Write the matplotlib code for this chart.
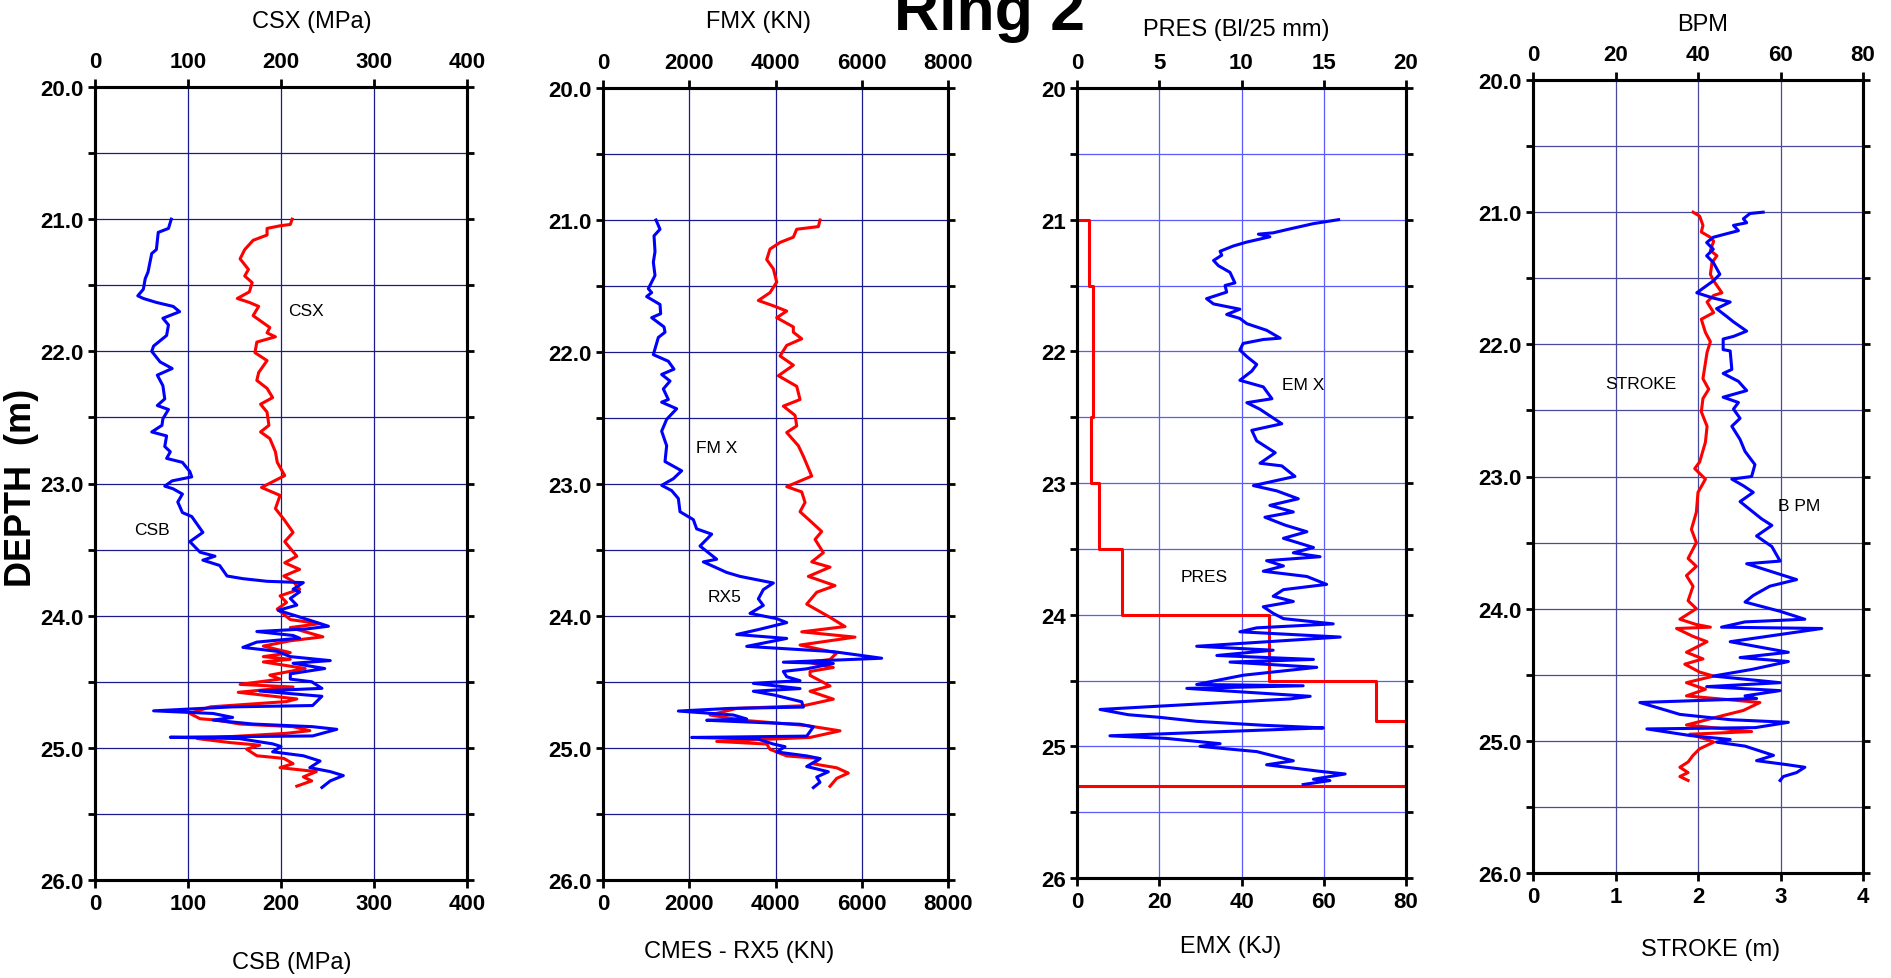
import matplotlib
matplotlib.use("Agg")
import matplotlib.pyplot as plt

W, H = 1891, 979

plt.rcParams['font.family'] = ['Liberation Sans', 'DejaVu Sans']

# ---------------- data ----------------
# panel 1 : CSX (top, red) / CSB (bottom, blue), MPa
csx_depth = [21.00, 21.04, 21.05, 21.07, 21.12, 21.16, 21.23, 21.30, 21.38, 21.43,
             21.48, 21.55, 21.60, 21.63, 21.66, 21.73, 21.77, 21.82, 21.86, 21.89,
             21.93, 22.01, 22.07, 22.16, 22.22, 22.28, 22.35, 22.40, 22.46, 22.56,
             22.61, 22.66, 22.76, 22.84, 22.94, 23.03, 23.09, 23.19, 23.27, 23.37,
             23.44, 23.55, 23.60, 23.65, 23.70, 23.74, 23.80, 23.85, 23.90, 23.95,
             24.03, 24.06, 24.09, 24.16, 24.19, 24.23, 24.28, 24.31, 24.33, 24.35,
             24.40, 24.45, 24.48, 24.52, 24.54, 24.58, 24.63, 24.65, 24.69, 24.74,
             24.78, 24.79, 24.82, 24.84, 24.87, 24.89, 24.93, 24.96, 24.98, 25.01,
             25.06, 25.08, 25.12, 25.15, 25.18, 25.22, 25.25, 25.29]
csx = [212, 210, 199, 185, 185, 170, 161, 156, 165, 161,
       169, 166, 153, 166, 176, 170, 178, 188, 185, 194,
       174, 172, 185, 176, 174, 185, 191, 178, 185, 187,
       178, 188, 194, 196, 204, 179, 199, 194, 203, 213,
       204, 217, 204, 220, 203, 213, 220, 199, 206, 196,
       210, 242, 210, 245, 210, 181, 210, 181, 210, 181,
       226, 188, 199, 156, 213, 154, 217, 206, 124, 102,
       113, 131, 156, 213, 231, 206, 110, 145, 177, 163,
       174, 203, 213, 199, 238, 224, 233, 217]

csb_depth = [21.00, 21.07, 21.10, 21.23, 21.26, 21.40, 21.45, 21.53, 21.58, 21.60,
             21.63, 21.66, 21.70, 21.75, 21.80, 21.88, 21.96, 22.00, 22.08, 22.13,
             22.18, 22.26, 22.36, 22.41, 22.44, 22.51, 22.56, 22.61, 22.64, 22.72,
             22.76, 22.81, 22.84, 22.91, 22.95, 22.98, 23.02, 23.04, 23.08, 23.14,
             23.22, 23.25, 23.29, 23.37, 23.44, 23.52, 23.55, 23.58, 23.62, 23.70,
             23.72, 23.74, 23.75, 23.80, 23.82, 23.87, 23.92, 23.96, 24.01, 24.08,
             24.10, 24.12, 24.15, 24.17, 24.20, 24.24, 24.27, 24.31, 24.34, 24.36,
             24.40, 24.44, 24.48, 24.50, 24.55, 24.57, 24.61, 24.68, 24.69, 24.72,
             24.74, 24.77, 24.79, 24.82, 24.84, 24.86, 24.91, 24.92, 24.93, 24.97,
             24.99, 25.03, 25.06, 25.10, 25.15, 25.18, 25.21, 25.25, 25.30]
csb = [82, 79, 68, 66, 61, 57, 54, 52, 46, 52,
       66, 84, 91, 73, 79, 77, 63, 61, 70, 83,
       67, 73, 75, 67, 79, 73, 72, 61, 77, 75,
       81, 77, 94, 102, 104, 83, 75, 84, 94, 89,
       94, 104, 108, 116, 102, 113, 129, 116, 134, 142,
       159, 185, 224, 213, 220, 210, 217, 197, 220, 251,
       228, 174, 213, 220, 174, 159, 196, 210, 253, 213,
       247, 210, 210, 233, 244, 177, 244, 234, 148, 63,
       127, 148, 127, 170, 234, 260, 234, 81, 155, 191,
       200, 191, 224, 242, 231, 253, 267, 253, 244]

# panel 2 : FMX (red) / RX5 (blue), KN
fmx_depth = [21.00, 21.05, 21.07, 21.13, 21.17, 21.22, 21.30, 21.37, 21.47, 21.55,
             21.61, 21.65, 21.69, 21.74, 21.81, 21.85, 21.90, 21.95, 22.03, 22.10,
             22.18, 22.26, 22.36, 22.41, 22.48, 22.56, 22.61, 22.71, 22.79, 22.94,
             23.02, 23.06, 23.14, 23.21, 23.29, 23.36, 23.42, 23.52, 23.59, 23.63,
             23.70, 23.77, 23.82, 23.91, 24.01, 24.08, 24.12, 24.16, 24.22, 24.28,
             24.33, 24.35, 24.39, 24.42, 24.45, 24.53, 24.57, 24.63, 24.68, 24.70,
             24.75, 24.79, 24.83, 24.87, 24.92, 24.95, 24.97, 25.01, 25.06, 25.08,
             25.12, 25.15, 25.19, 25.23, 25.29]
fmx = [5032, 4994, 4492, 4414, 4105, 3873, 3796, 3950, 4028, 3873,
       3602, 3950, 4260, 4028, 4414, 4414, 4608, 4260, 4105, 4414,
       4066, 4492, 4569, 4182, 4453, 4492, 4260, 4530, 4646, 4840,
       4260, 4608, 4685, 4569, 4840, 5071, 4917, 5110, 4840, 5264,
       4762, 5380, 4956, 4724, 5264, 5612, 4608, 5844, 4569, 5419,
       5264, 4762, 5341, 4801, 4801, 5264, 4801, 5341, 4646, 3100,
       2481, 3254, 4724, 5496, 4801, 2636, 3796, 3873, 4260, 5032,
       4878, 5419, 5689, 5419, 5264]

rx5_depth = [21.00, 21.07, 21.12, 21.24, 21.32, 21.42, 21.52, 21.55, 21.58, 21.64,
             21.71, 21.74, 21.81, 21.85, 21.89, 22.02, 22.07, 22.13, 22.17, 22.22,
             22.28, 22.36, 22.38, 22.43, 22.51, 22.60, 22.71, 22.83, 22.90, 22.96,
             23.01, 23.05, 23.11, 23.21, 23.27, 23.34, 23.38, 23.47, 23.57, 23.59,
             23.67, 23.70, 23.75, 23.80, 23.87, 23.92, 23.98, 24.02, 24.05, 24.10,
             24.14, 24.17, 24.23, 24.27, 24.32, 24.35, 24.36, 24.40, 24.42, 24.46,
             24.49, 24.51, 24.55, 24.57, 24.60, 24.65, 24.69, 24.70, 24.72, 24.75,
             24.78, 24.79, 24.82, 24.84, 24.91, 24.92, 24.93, 24.97, 24.99, 25.03,
             25.06, 25.08, 25.14, 25.18, 25.22, 25.26, 25.30]
rx5 = [1229, 1322, 1183, 1206, 1167, 1206, 1051, 1128, 1012, 1322,
       1337, 1128, 1415, 1438, 1283, 1167, 1515, 1646, 1360, 1554,
       1399, 1515, 1360, 1708, 1476, 1360, 1476, 1438, 1824, 1631,
       1360, 1592, 1747, 1786, 2095, 2172, 2520, 2250, 2636, 2327,
       2868, 3177, 3950, 3718, 3602, 3718, 3409, 4028, 4260, 3641,
       3100, 4260, 3332, 5341, 6462, 4182, 5341, 4724, 4182, 4260,
       4569, 3486, 4569, 3486, 3989, 4608, 4647, 2945, 1747, 3022,
       3332, 2404, 4569, 4878, 4724, 2056, 3563, 3950, 4221, 4028,
       4724, 5032, 4724, 5225, 4956, 5032, 4878]

# panel 3 : PRES (red, Bl/25 mm) / EMX (blue, KJ)
pres_depth = [21.0, 21.5, 22.5, 23.0, 23.5, 24.0, 24.5, 24.81, 25.30, 25.30]
pres = [0, 0.73, 0.95, 0.88, 1.36, 2.75, 11.7, 18.2, 20.0, 0]

emx_depth = [21.00, 21.03, 21.07, 21.10, 21.11, 21.13, 21.17, 21.20, 21.24, 21.27,
             21.31, 21.35, 21.40, 21.48, 21.50, 21.55, 21.60, 21.64, 21.68, 21.72,
             21.75, 21.79, 21.84, 21.90, 21.91, 21.94, 21.99, 22.04, 22.10, 22.15,
             22.22, 22.27, 22.36, 22.39, 22.44, 22.55, 22.60, 22.68, 22.77, 22.85,
             22.87, 22.95, 23.02, 23.06, 23.12, 23.17, 23.22, 23.26, 23.32, 23.37,
             23.42, 23.49, 23.53, 23.56, 23.59, 23.63, 23.67, 23.71, 23.77, 23.81,
             23.86, 23.90, 23.94, 23.99, 24.03, 24.07, 24.10, 24.13, 24.17, 24.24,
             24.27, 24.31, 24.34, 24.36, 24.40, 24.46, 24.53, 24.54, 24.56, 24.62,
             24.64, 24.70, 24.72, 24.76, 24.78, 24.81, 24.84, 24.86, 24.87, 24.92,
             24.94, 24.98, 25.00, 25.04, 25.11, 25.14, 25.19, 25.21, 25.25, 25.26,
             25.29]
emx = [63.6, 57.5, 51.8, 47.7, 44.1, 46.9, 41.3, 38.0, 34.8, 35.2,
       33.2, 34.4, 37.2, 38.4, 36.0, 36.4, 31.5, 33.2, 39.6, 36.4,
       39.6, 41.3, 46.1, 49.4, 45.3, 40.4, 39.6, 41.3, 43.7, 42.5,
       39.6, 45.3, 47.4, 41.3, 44.5, 49.8, 42.5, 43.7, 48.2, 44.5,
       49.8, 53.0, 42.9, 48.6, 53.8, 46.9, 52.6, 45.7, 50.6, 55.9,
       50.2, 57.5, 52.6, 59.1, 46.1, 50.2, 45.3, 55.9, 60.7, 50.2,
       47.7, 52.6, 45.3, 47.7, 50.2, 62.3, 43.7, 39.6, 64.0, 29.1,
       47.7, 34.0, 57.5, 37.2, 58.3, 40.4, 29.1, 55.0, 26.7, 56.7,
       51.8, 17.0, 5.6, 12.5, 20.2, 29.1, 45.3, 59.9, 51.0, 8.0,
       21.8, 34.8, 29.9, 43.7, 52.6, 46.1, 59.1, 65.2, 57.5, 61.5,
       55.0]

# panel 4 : BPM (blue) / STROKE (red, m)
bpm_depth = [21.00, 21.01, 21.05, 21.08, 21.10, 21.14, 21.17, 21.19, 21.23, 21.28,
             21.33, 21.38, 21.47, 21.52, 21.61, 21.65, 21.68, 21.73, 21.79, 21.83,
             21.90, 21.94, 21.96, 22.04, 22.05, 22.19, 22.22, 22.28, 22.35, 22.40,
             22.44, 22.49, 22.56, 22.62, 22.72, 22.81, 22.91, 23.00, 23.02, 23.07,
             23.12, 23.19, 23.27, 23.32, 23.37, 23.45, 23.53, 23.64, 23.66, 23.78,
             23.83, 23.90, 23.95, 24.02, 24.08, 24.10, 24.14, 24.15, 24.25, 24.33,
             24.37, 24.40, 24.46, 24.51, 24.56, 24.59, 24.62, 24.66, 24.68, 24.71,
             24.77, 24.80, 24.84, 24.86, 24.90, 24.91, 24.96, 24.99, 25.01, 25.04,
             25.11, 25.15, 25.18, 25.20, 25.24, 25.27, 25.30]
bpm = [55.8, 52.6, 51.0, 51.8, 48.6, 49.8, 46.1, 43.7, 42.1, 43.7,
       42.1, 43.7, 45.3, 43.7, 39.7, 43.7, 47.8, 44.5, 47.0, 48.6,
       51.8, 48.6, 46.1, 46.1, 47.8, 48.2, 46.1, 49.8, 51.8, 46.1,
       49.8, 48.6, 50.2, 48.2, 50.2, 51.4, 53.8, 53.0, 48.2, 51.0,
       53.4, 50.2, 53.4, 55.4, 57.9, 54.2, 57.9, 59.9, 51.8, 63.9,
       57.4, 53.4, 51.4, 59.9, 65.9, 51.4, 45.7, 70.0, 47.8, 61.9,
       50.2, 61.9, 53.0, 43.7, 59.9, 42.1, 59.9, 51.4, 54.2, 25.9,
       32.4, 35.6, 47.8, 61.9, 53.9, 27.6, 38.1, 47.8, 44.5, 51.4,
       58.3, 54.2, 61.5, 65.9, 63.9, 60.7, 59.9]

stroke_depth = [21.00, 21.03, 21.10, 21.15, 21.19, 21.22, 21.29, 21.33, 21.38, 21.47,
                21.52, 21.61, 21.63, 21.68, 21.76, 21.81, 21.91, 21.98, 22.06, 22.26,
                22.34, 22.41, 22.51, 22.62, 22.74, 22.89, 22.94, 23.02, 23.12, 23.27,
                23.40, 23.50, 23.62, 23.68, 23.75, 23.83, 23.94, 24.00, 24.08, 24.12,
                24.14, 24.15, 24.21, 24.25, 24.33, 24.38, 24.42, 24.48, 24.51, 24.56,
                24.61, 24.66, 24.71, 24.77, 24.82, 24.84, 24.88, 24.93, 24.95, 24.99,
                25.01, 25.06, 25.11, 25.16, 25.20, 25.24, 25.27, 25.30]
stroke = [1.94, 2.02, 2.06, 2.04, 2.15, 2.19, 2.15, 2.23, 2.17, 2.15,
          2.19, 2.29, 2.19, 2.11, 2.19, 2.04, 2.09, 2.15, 2.11, 2.06,
          2.13, 2.06, 2.04, 2.11, 2.09, 2.02, 1.96, 2.09, 2.00, 1.98,
          1.92, 1.98, 1.88, 1.98, 1.86, 1.94, 1.88, 1.98, 1.78, 1.98,
          2.15, 1.74, 1.94, 2.11, 1.86, 2.06, 1.84, 2.02, 2.19, 1.86,
          2.09, 1.86, 2.75, 2.55, 2.23, 2.11, 1.86, 2.65, 1.90, 2.11,
          2.19, 2.02, 1.94, 1.88, 1.78, 1.88, 1.78, 1.88]

# axis ticks
ticks_mpa = [0, 100, 200, 300, 400]
ticks_kn = [0, 2000, 4000, 6000, 8000]
ticks_pres = [0, 5, 10, 15, 20]
ticks_80 = [0, 20, 40, 60, 80]
ticks_stroke = [0, 1, 2, 3, 4]
depth_major = [20, 21, 22, 23, 24, 25, 26]
depth_minor = [20.5, 21.5, 22.5, 23.5, 24.5, 25.5]
depth_labels_1dp = ['20.0', '21.0', '22.0', '23.0', '24.0', '25.0', '26.0']
depth_labels_int = ['20', '21', '22', '23', '24', '25', '26']

# ---------------- figure ----------------
TICKFONT = dict(fontfamily=['Liberation Sans', 'DejaVu Sans'], fontweight='bold', fontsize=16)
LW = 2.2


def rect(l, r, t, b):
    return [l / W, 1 - b / H, (r - l) / W, (b - t) / H]


def setup(ax, tw, main_ticks, twin_ticks, main_side, ylabels, gcolor):
    twin_side = 'bottom' if main_side == 'top' else 'top'
    for a, ticks, side in ((ax, main_ticks, main_side), (tw, twin_ticks, twin_side)):
        a.set_xlim(ticks[0], ticks[-1])
        a.set_xticks(ticks, [str(v) for v in ticks], **TICKFONT)
        a.xaxis.set_ticks_position(side)
        a.tick_params(axis='x', direction='out', length=5.5, width=2, pad=4 if side == 'bottom' else 5)
        for s in a.spines.values():
            s.set_linewidth(LW)
    ax.set_ylim(26, 20)
    ax.set_yticks(depth_major, ylabels, **TICKFONT)
    ax.set_yticks(depth_minor, minor=True)
    ax.yaxis.set_ticks_position('both')
    ax.tick_params(axis='y', which='both', direction='out', length=5, width=2, pad=3)
    ax.grid(True, axis='x', color=gcolor, lw=0.9)
    ax.grid(True, axis='y', which='both', color=gcolor, lw=0.9)
    ax.set_axisbelow(True)


fig = plt.figure(figsize=(W / 100, H / 100), dpi=100)

# panel 1
ax1 = fig.add_axes(rect(95, 467, 88, 881))
tw1 = ax1.twiny()
setup(ax1, tw1, ticks_mpa, ticks_mpa, 'bottom', depth_labels_1dp, '#1a1a8c')
ax1.plot(csx, csx_depth, color='red', lw=LW)
ax1.plot(csb, csb_depth, color='blue', lw=LW)
ax1.text(227, 21.69, 'CSX', fontsize=12.5, ha='center', va='center')
ax1.text(61, 23.35, 'CSB', fontsize=12.5, ha='center', va='center')

# panel 2
ax2 = fig.add_axes(rect(603, 948, 89, 881))
tw2 = ax2.twiny()
setup(ax2, tw2, ticks_kn, ticks_kn, 'bottom', depth_labels_1dp, '#1a1a8c')
ax2.plot(fmx, fmx_depth, color='red', lw=LW)
ax2.plot(rx5, rx5_depth, color='blue', lw=LW)
ax2.text(2640, 22.72, 'FM X', fontsize=12.5, ha='center', va='center')
ax2.text(2830, 23.85, 'RX5', fontsize=12.5, ha='center', va='center')

# panel 3 (main axis = PRES on top, twin = EMX at bottom)
ax3 = fig.add_axes(rect(1077, 1406, 89, 879))
tw3 = ax3.twiny()
setup(ax3, tw3, ticks_pres, ticks_80, 'top', depth_labels_int, '#5a5aff')
ax3.plot(pres, pres_depth, color='red', lw=LW, drawstyle='steps-post')
tw3.plot(emx, emx_depth, color='blue', lw=LW)
tw3.text(55, 22.25, 'EM X', fontsize=12.5, ha='center', va='center')
tw3.text(31, 23.71, 'PRES', fontsize=12.5, ha='center', va='center')

# panel 4 (main axis = STROKE at bottom, twin = BPM on top)
ax4 = fig.add_axes(rect(1533, 1863, 81, 874))
tw4 = ax4.twiny()
setup(ax4, tw4, ticks_stroke, ticks_80, 'bottom', depth_labels_1dp, '#4a4a9c')
ax4.plot(stroke, stroke_depth, color='red', lw=LW)
tw4.plot(bpm, bpm_depth, color='blue', lw=LW)
tw4.text(26.2, 22.30, 'STROKE', fontsize=12.5, ha='center', va='center')
tw4.text(64.5, 23.22, 'B PM', fontsize=12.5, ha='center', va='center')

# axis titles
axis_titles = [(312, 22, 'CSX (MPa)'), (758, 22, 'FMX (KN)'), (1236, 30, 'PRES (Bl/25 mm)'),
               (1703, 25, 'BPM'), (292, 963, 'CSB (MPa)'), (739, 952, 'CMES - RX5 (KN)'),
               (1231, 947, 'EMX (KJ)'), (1711, 950, 'STROKE (m)')]
for x, y, s in axis_titles:
    fig.text(x / W, 1 - y / H, s, fontsize=17, ha='center', va='center')

fig.text(22 / W, 1 - 488 / H, 'DEPTH  (m)', rotation=90, fontsize=26, fontweight='bold',
         ha='center', va='center')
fig.text(989 / W, 1 - 30 / H, 'Ring 2', fontsize=45, fontweight='bold', ha='center', va='baseline')

fig.savefig('out.png', dpi=100)
